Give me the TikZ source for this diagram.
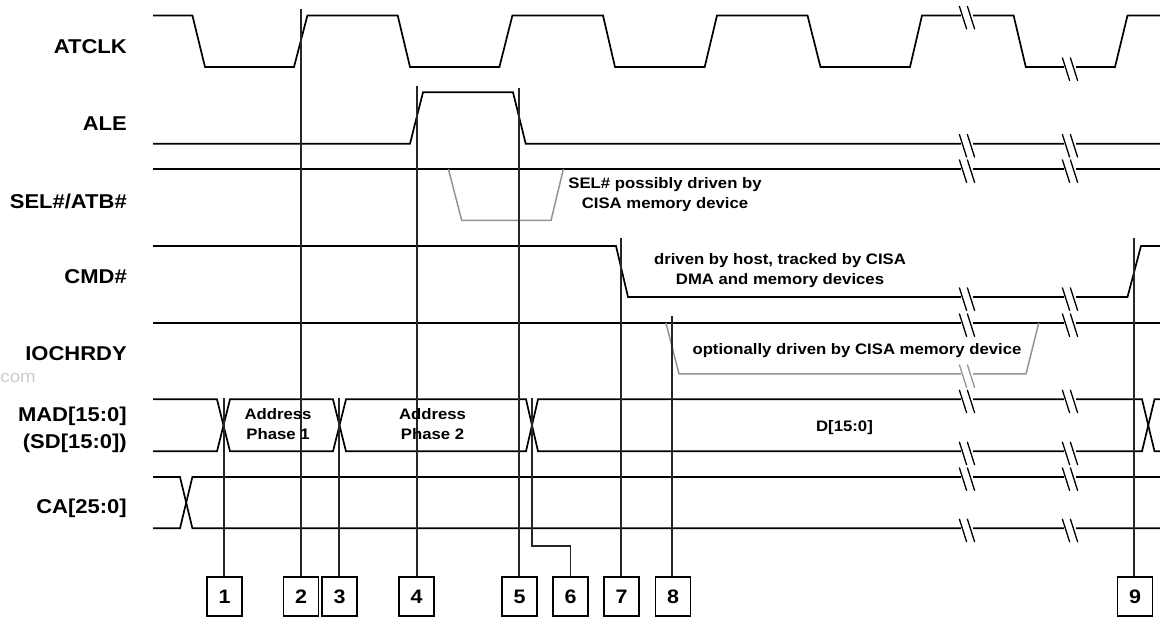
\documentclass[tikz,border=0pt]{standalone}
\usepackage{fontspec}
\setmainfont[FakeStretch=1.1]{Liberation Sans}
% one break mark on a waveform: x position, level, colour
\newcommand{\wavebreak}[3]{
    \fill[white] (#1-6.3,#2-2.2) rectangle (#1+6,#2+2.2);
    \draw[#3, thin line] (#1-7.7,#2-9.5) -- (#1-0.3,#2+13.8);
    \draw[#3, thin line] (#1+0.3,#2-9.5) -- (#1+7.7,#2+13.8);
}
\begin{document}
\begin{tikzpicture}[
    x=1pt, y=-1pt,
    sig/.style={line width=1.7pt, black, line join=miter},
    optsig/.style={line width=1.5pt, color=black!42},
    thin line/.style={line width=1.3pt},
    mark line/.style={line width=1.8pt, color=black!85},
    signame/.style={font=\fontsize{20}{27}\selectfont\bfseries, align=right, anchor=east, inner sep=0pt},
    note/.style={font=\fontsize{15.2}{20}\selectfont\bfseries, align=center, inner sep=0pt},
    numbox/.style={draw, line width=1.5pt, minimum width=35pt, minimum height=39pt, inner sep=0pt, font=\fontsize{19.5}{23}\selectfont\bfseries}
]
    \useasboundingbox (0,0) rectangle (1160,617);

    % --- WAVEFORMS ---

    % ATCLK
    \draw[sig] (153,15.5) -- (192.4,15.5) -- (205,67) -- (294,67) -- (307.4,15.5) -- (397.7,15.5)
        -- (410,67) -- (499.4,67) -- (512.4,15.5) -- (603,15.5) -- (615,67) -- (704.7,67)
        -- (717,15.5) -- (807.5,15.5) -- (820.5,67) -- (910,67) -- (922,15.5) -- (1013.6,15.5)
        -- (1025.8,67) -- (1115,67) -- (1127.5,15.5) -- (1160,15.5);

    % ALE
    \draw[sig] (153,143.7) -- (410,143.7) -- (423,92.3) -- (513,92.3) -- (525.7,143.7) -- (1160,143.7);

    % SEL#/ATB#
    \draw[sig] (153,169) -- (1160,169);
    \draw[optsig] (448.4,169) -- (461.7,220.5) -- (551,220.5) -- (563.4,169);

    % CMD#
    \draw[sig] (153,246) -- (616,246) -- (628,297) -- (1127.5,297) -- (1141,246) -- (1160,246);

    % IOCHRDY
    \draw[sig] (153,323) -- (1160,323);
    \draw[optsig] (666,323) -- (679,374) -- (1026,374) -- (1038.7,323);

    % MAD[15:0]
    \draw[sig] (153,399.3) -- (217,399.3) -- (230,451.3) -- (333,451.3) -- (346,399.3) -- (526,399.3)
        -- (538,451.3) -- (1142,451.3) -- (1154.5,399.3) -- (1160,399.3);
    \draw[sig] (153,451.3) -- (217,451.3) -- (230,399.3) -- (333,399.3) -- (346,451.3) -- (526,451.3)
        -- (538,399.3) -- (1142,399.3) -- (1154.5,451.3) -- (1160,451.3);

    % CA[25:0]
    \draw[sig] (153,477) -- (180,477) -- (192.4,528.3) -- (1160,528.3);
    \draw[sig] (153,528.3) -- (180,528.3) -- (192.4,477) -- (1160,477);

    % Break marks
    \foreach \ylev in {15.5,143.7,169,297,323,399.3,451.3,477,528.3} {
        \wavebreak{967}{\ylev}{black}
    }
    \wavebreak{967}{374}{black!42}
    \foreach \ylev in {67,143.7,169,297,323,399.3,451.3,477,528.3} {
        \wavebreak{1070}{\ylev}{black}
    }

    % --- NUMBERED MARKERS ---

    \foreach \n/\xpos in {1/224.5, 2/301, 3/339.5, 4/416.5, 5/519.5, 6/570.5, 7/621.5, 8/673, 9/1135} {
        \node[numbox] (b\n) at (\xpos,596.5) {\n};
    }

    % Line tops
    \coordinate (t1) at (223.8,398);
    \coordinate (t2) at (300.7,9);
    \coordinate (t3) at (339,398);
    \coordinate (t4) at (416.6,86);
    \coordinate (t5) at (518.7,88);
    \coordinate (t6) at (531.6,398);
    \coordinate (t7) at (620.7,238);
    \coordinate (t8) at (672,316);
    \coordinate (t9) at (1134,238);

    \foreach \n in {1,2,3,4,5,7,8,9} {
        \draw[mark line] (t\n) -- (t\n |- b\n.north);
    }
    \draw[mark line] (t6) |- (b6.north |- 0,545.7) -- (b6.north);

    % --- LABELS ---

    \node[signame] (atclk) at (127,47) {ATCLK};
    \node[signame] (ale) at (127,124) {ALE};
    \node[signame] (sel) at (127,201.5) {SEL\#/ATB\#};
    \node[signame] (cmd) at (127,277) {CMD\#};
    \node[signame] (iochrdy) at (127,354) {IOCHRDY};
    \node[signame] (mad) at (127,430) {MAD[15:0]\\(SD[15:0])};
    \node[signame] (ca) at (127,508) {CA[25:0]};

    \node[note] (selnote) at (665,195) {SEL\# possibly driven by\\CISA memory device};
    \node[note] (cmdnote) at (780,271) {driven by host, tracked by CISA\\DMA and memory devices};
    \node[note] (ionote) at (857,351) {optionally driven by CISA memory device};
    \node[note] (ph1) at (278,424) {Address\\Phase 1};
    \node[note] (ph2) at (432.5,424) {Address\\Phase 2};
    \node[note] (data) at (844.5,428) {D[15:0]};

    % Faint leftover at the left edge
    \node[anchor=east, inner sep=0pt, text=black!20, font=\fontsize{17}{20}\selectfont] (web) at (36,378) {com};

\end{tikzpicture}
\end{document}
